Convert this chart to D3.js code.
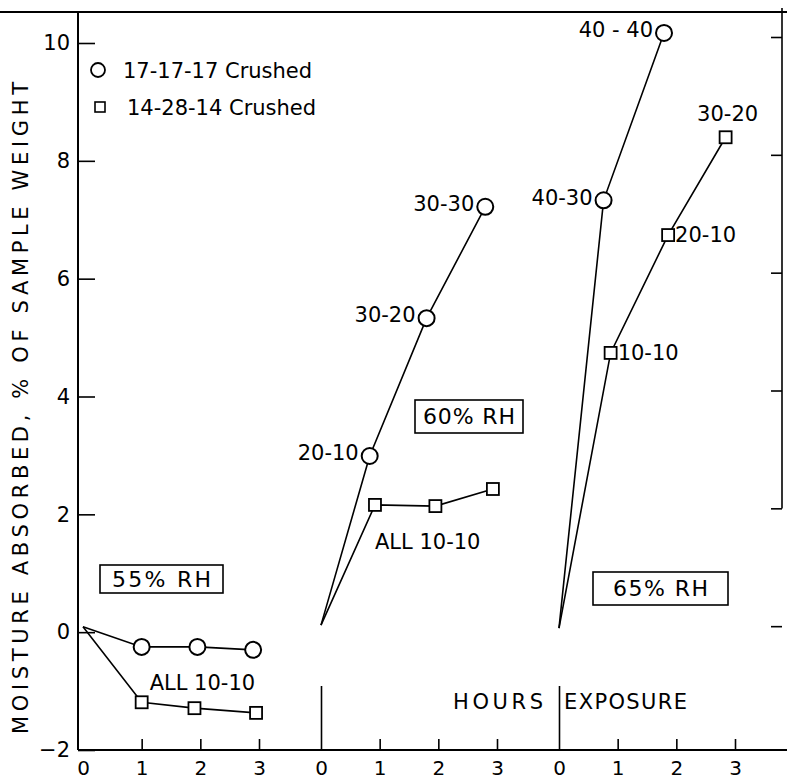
<!DOCTYPE html>
<html>
<head>
<meta charset="utf-8">
<script src="https://cdnjs.cloudflare.com/ajax/libs/d3/7.8.5/d3.min.js"></script>
<style>
  body { margin: 0; background: #fff; }
  svg { display: block; }
  text { font-family: "DejaVu Sans", "Liberation Sans", sans-serif; fill: #000; }
</style>
</head>
<body>
<div class="graph-container"></div>
<script>
// Data
var panels = ['55% RH', '60% RH', '65% RH']
var hourTicks = [0, 1, 2, 3]
var valueTicks = [-2, 0, 2, 4, 6, 8, 10]

// every line starts from the same origin point in its panel
var originValues = [0.09, 0.12, 0.07]

// 17-17-17 Crushed (circles)
var circleHours = [[1, 1.95, 2.9], [0.83, 1.8, 2.8], [0.76, 1.79]]
var circleValues = [[-0.25, -0.25, -0.3], [2.99, 5.33, 7.22], [7.33, 10.17]]
var circleLabels = [[], ['20-10', '30-20', '30-30'], ['40-30', '40 - 40']]

// 14-28-14 Crushed (squares)
var squareHours = [[1, 1.9, 2.95], [0.92, 1.95, 2.93], [0.88, 1.86, 2.84]]
var squareValues = [[-1.19, -1.29, -1.37], [2.16, 2.14, 2.43], [4.74, 6.74, 8.4]]
var squareLabels = [[], [], ['10-10', '20-10', '30-20']]

var groupLabels = ['ALL 10-10', 'ALL 10-10', '']

// SVG setup
var W = 787, H = 781
var svg = d3.select(".graph-container").append("svg")
    .attr("width", W)
    .attr("height", H)

var axisX = 78, baseY = 750, topY = 12, rightX = 782

var y = d3.scaleLinear().domain([-2, 10]).range([750, 43])
var panelX = d3.scalePoint().domain(panels).range([83, 559])
var hx = d3.scaleLinear().domain([0, 3]).range([0, 176])

// frame lines
svg.append("line").attr("x1", 0).attr("x2", W).attr("y1", topY).attr("y2", topY)
  .attr("stroke", "#000").attr("stroke-width", 2)
svg.append("line").attr("x1", axisX).attr("x2", W).attr("y1", baseY).attr("y2", baseY)
  .attr("stroke", "#000").attr("stroke-width", 2)
svg.append("line").attr("x1", rightX).attr("x2", rightX).attr("y1", topY - 4).attr("y2", y(2.1))
  .attr("stroke", "#000").attr("stroke-width", 1.6)

// left axis, ticks pointing in
var yAxis = d3.axisLeft(y).tickValues(valueTicks).tickSize(-17).tickPadding(8)
var gy = svg.append("g").attr("transform", "translate(" + axisX + ",0)").call(yAxis)
gy.select(".domain").attr("d", "M0," + topY + "V" + baseY).attr("stroke-width", 2)
gy.selectAll(".tick line").attr("stroke-width", 1.6)
gy.selectAll(".tick text").attr("font-size", 21).attr("font-family", "DejaVu Sans")

// right axis, only ticks
var gr = svg.append("g").attr("transform", "translate(" + rightX + ",-6)")
  .call(d3.axisLeft(y).tickValues(valueTicks.filter(v => v >= 0)).tickSize(11).tickFormat(""))
gr.select(".domain").remove()
gr.selectAll(".tick line").attr("stroke-width", 1.6)

// y title
svg.append("text")
  .attr("transform", "translate(28," + 408 + ") rotate(-90)")
  .attr("text-anchor", "middle")
  .attr("font-size", 21)
  .attr("textLength", 652)
  .attr("lengthAdjust", "spacing")
  .text("MOISTURE ABSORBED, % OF SAMPLE WEIGHT")

// panels
panels.forEach((p, i) => {
  var x0 = panelX(p)
  var g = svg.append("g").attr("transform", "translate(" + x0 + ",0)")

  var xa = d3.axisBottom(hx).tickValues(hourTicks).tickFormat(d3.format("d"))
    .tickSize(-11).tickPadding(11)
  var ga = g.append("g").attr("transform", "translate(0," + baseY + ")").call(xa)
  ga.select(".domain").remove()
  ga.selectAll(".tick text").attr("font-size", 20).attr("font-family", "DejaVu Sans")
  ga.selectAll(".tick line").attr("stroke-width", 1.6)
    .attr("y2", d => d === 0 ? (i === 0 ? 0 : -64) : -11)

  var line = d3.line().x(d => hx(d[0])).y(d => y(d[1]))
  var cPts = [[0, originValues[i]]].concat(circleHours[i].map((h, j) => [h, circleValues[i][j]]))
  var sPts = [[0, originValues[i]]].concat(squareHours[i].map((h, j) => [h, squareValues[i][j]]))

  g.append("path").datum(cPts).attr("d", line)
    .attr("fill", "none").attr("stroke", "#000").attr("stroke-width", 1.6)
  g.append("path").datum(sPts).attr("d", line)
    .attr("fill", "none").attr("stroke", "#000").attr("stroke-width", 1.6)

  g.selectAll(".circ").data(cPts.slice(1)).enter().append("circle")
    .attr("class", "circ")
    .attr("cx", d => hx(d[0])).attr("cy", d => y(d[1])).attr("r", 8)
    .attr("fill", "#fff").attr("stroke", "#000").attr("stroke-width", 2)
  g.selectAll(".sq").data(sPts.slice(1)).enter().append("rect")
    .attr("class", "sq")
    .attr("x", d => hx(d[0]) - 6).attr("y", d => y(d[1]) - 6)
    .attr("width", 12).attr("height", 12)
    .attr("fill", "#fff").attr("stroke", "#000").attr("stroke-width", 1.8)

  // point labels: circles labelled on the left, squares on the right
  circleLabels[i].forEach((t, j) => {
    g.append("text")
      .attr("x", hx(circleHours[i][j]) - 11)
      .attr("y", y(circleValues[i][j]) - 3)
      .attr("dy", "0.35em")
      .attr("text-anchor", "end")
      .attr("font-size", 21)
      .text(t)
  })
  squareLabels[i].forEach((t, j) => {
    var last = j === squareLabels[i].length - 1
    g.append("text")
      .attr("x", last ? hx(squareHours[i][j]) + 2 : hx(squareHours[i][j]) + 7)
      .attr("y", last ? y(squareValues[i][j]) - 24 : y(squareValues[i][j]))
      .attr("dy", "0.35em")
      .attr("text-anchor", last ? "middle" : "start")
      .attr("font-size", 21)
      .text(t)
  })

  if (groupLabels[i]) {
    g.append("text")
      .attr("x", hx(squareHours[i][0]) + (i === 0 ? 8 : 0))
      .attr("y", y(squareValues[i][0]) + (i === 0 ? -20 : 37))
      .attr("dy", "0.35em")
      .attr("font-size", 21)
      .text(groupLabels[i])
  }
})

// RH boxes
var boxes = [
  {x: 100, y: 565, w: 123, h: 28, tl: 99},
  {x: 415, y: 400, w: 108, h: 33, tl: 92},
  {x: 593, y: 572, w: 135, h: 33, tl: 95}
]
panels.forEach((p, i) => {
  var b = boxes[i]
  svg.append("rect").attr("x", b.x).attr("y", b.y).attr("width", b.w).attr("height", b.h)
    .attr("fill", "#fff").attr("stroke", "#000").attr("stroke-width", 1.6)
  svg.append("text").attr("x", b.x + b.w / 2).attr("y", b.y + b.h / 2).attr("dy", "0.36em")
    .attr("text-anchor", "middle").attr("font-size", 22)
    .attr("textLength", b.tl).attr("lengthAdjust", "spacing")
    .text(p)
})

// x title, split either side of the 65% RH zero line
svg.append("text").attr("x", 453).attr("y", 701).attr("dy", "0.36em")
  .attr("font-size", 21).attr("textLength", 90).attr("lengthAdjust", "spacing")
  .text("HOURS")
svg.append("text").attr("x", 564).attr("y", 701).attr("dy", "0.36em")
  .attr("font-size", 21).attr("textLength", 123).attr("lengthAdjust", "spacing")
  .text("EXPOSURE")

// legend
var legend = svg.append("g")
legend.append("circle").attr("cx", 98).attr("cy", 70).attr("r", 7)
  .attr("fill", "#fff").attr("stroke", "#000").attr("stroke-width", 1.8)
legend.append("text").attr("x", 123).attr("y", 70).attr("dy", "0.36em").attr("font-size", 21)
  .text("17-17-17 Crushed")
legend.append("rect").attr("x", 95).attr("y", 102).attr("width", 10).attr("height", 10)
  .attr("fill", "#fff").attr("stroke", "#000").attr("stroke-width", 1.6)
legend.append("text").attr("x", 127).attr("y", 107).attr("dy", "0.36em").attr("font-size", 21)
  .text("14-28-14 Crushed")
</script>
</body>
</html>
